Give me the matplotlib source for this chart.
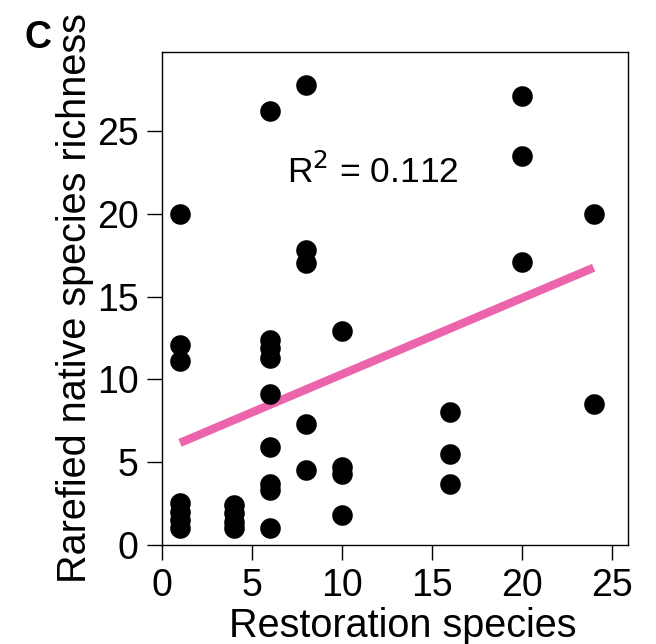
import numpy as np
import matplotlib
matplotlib.use("Agg")
import matplotlib.pyplot as plt

plt.rcParams['font.family'] = ['Liberation Sans', 'DejaVu Sans']

# restoration species richness (x) and rarefied native richness (y)
restoration = [1, 1, 1, 1, 1, 1, 1,
               4, 4, 4, 4,
               6, 6, 6, 6, 6, 6, 6, 6, 6,
               8, 8, 8, 8, 8,
               10, 10, 10, 10,
               16, 16, 16,
               20, 20, 20,
               24, 24]
native = [20.0, 12.1, 11.1, 2.5, 2.0, 1.5, 1.0,
          2.4, 1.9, 1.4, 1.0,
          26.2, 12.4, 11.9, 11.3, 9.1, 5.9, 3.7, 3.3, 1.0,
          27.8, 17.8, 17.0, 7.3, 4.5,
          12.9, 4.7, 4.3, 1.8,
          8.0, 5.5, 3.7,
          27.1, 23.5, 17.1,
          20.0, 8.5]

# fitted line
fit_x = [1, 24]
fit_intercept = 5.7
fit_slope = 0.46
r2_text = "R$^2$ = 0.112"

fig = plt.figure(figsize=(6.56, 6.44), dpi=100)
ax = fig.add_axes([0.247, 0.154, 0.71, 0.766])

ax.scatter(restoration, native, s=220, color='black', zorder=3, linewidths=0)
fx = np.array(fit_x)
ax.plot(fx, fit_intercept + fit_slope * fx, color='#ec64ac', lw=6, solid_capstyle='butt', zorder=2)

ax.text(11.75, 22.5, r2_text, fontsize=25.5, ha='center', va='center')

ax.set_xlim(0, 25.9)
ax.set_ylim(0, 29.8)
ax.set_xticks([0, 5, 10, 15, 20, 25])
ax.set_yticks([0, 5, 10, 15, 20, 25])
ax.tick_params(labelsize=27, length=11, width=1, direction='out', pad=6)
for s in ax.spines.values():
    s.set_linewidth(1)

ax.set_xlabel("Restoration species", fontsize=28.5, labelpad=2)
ax.xaxis.label.set_x(0.517)
ax.set_ylabel("Rarefied native species richness", fontsize=28.5, labelpad=2)

fig.text(0.058, 0.941, "C", fontsize=27, fontweight='bold', ha='center', va='center')

fig.savefig("out.png", dpi=100)
